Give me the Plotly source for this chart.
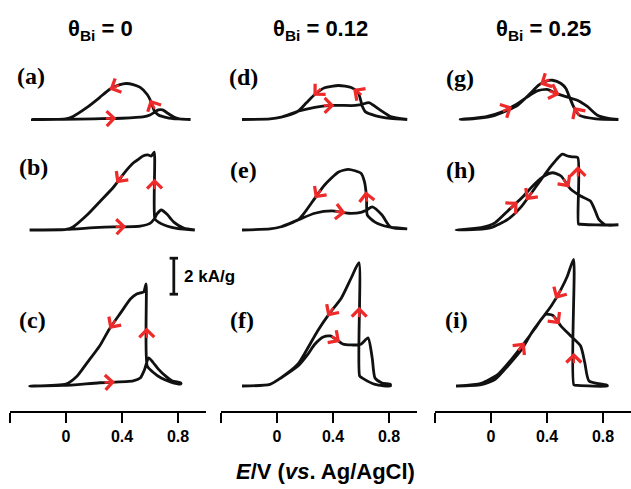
import math
import plotly.graph_objects as go

# ---------------------------------------------------------------------------
# Cyclic voltammograms: potential E (V vs. Ag/AgCl) and current density j (kA/g)
# for the forward (anodic) and reverse (cathodic) sweeps of each panel.
# ---------------------------------------------------------------------------
a_fwd_E = [-0.24, -0.02, 0.20, 0.40, 0.55, 0.60, 0.63, 0.66, 0.69, 0.73, 0.77, 0.81, 0.89]
a_fwd_j = [0.00, 0.01, 0.04, 0.07, 0.14, 0.25, 0.39, 0.53, 0.53, 0.33, 0.14, 0.04, 0.00]
a_rev_E = [0.89, 0.80, 0.72, 0.66, 0.63, 0.61, 0.58, 0.53, 0.48, 0.43, 0.38, 0.31, 0.24, 0.15, 0.05, 0.00, -0.24]
a_rev_j = [0.00, 0.03, 0.11, 0.25, 0.50, 0.94, 1.39, 1.78, 1.94, 2.00, 1.92, 1.67, 1.22, 0.67, 0.17, 0.03, 0.00]

b_fwd_E = [-0.26, 0.00, 0.24, 0.53, 0.60, 0.63, 0.65, 0.68, 0.72, 0.77, 0.84, 0.92]
b_fwd_j = [0.00, 0.03, 0.15, 0.22, 0.37, 0.61, 0.89, 1.11, 0.89, 0.44, 0.11, 0.00]
b_rev_E = [0.92, 0.80, 0.72, 0.66, 0.635, 0.63, 0.61, 0.585, 0.55, 0.52, 0.48, 0.41, 0.34, 0.24, 0.15, 0.05, 0.00, -0.26]
b_rev_j = [0.00, 0.08, 0.22, 0.44, 0.61, 4.33, 4.11, 4.17, 4.11, 3.94, 3.72, 3.11, 2.39, 1.56, 0.83, 0.17, 0.03, 0.00]

c_fwd_E = [-0.26, -0.02, 0.24, 0.48, 0.53, 0.56, 0.59, 0.62, 0.66, 0.71, 0.76, 0.82]
c_fwd_j = [0.00, 0.03, 0.18, 0.28, 0.44, 0.89, 1.56, 1.33, 0.94, 0.56, 0.28, 0.17]
c_rev_E = [0.82, 0.75, 0.68, 0.62, 0.58, 0.572, 0.555, 0.53, 0.505, 0.46, 0.39, 0.31, 0.24, 0.15, 0.08, 0.00, -0.26]
c_rev_j = [0.11, 0.22, 0.44, 0.78, 1.11, 5.67, 5.22, 5.17, 5.11, 4.83, 4.06, 3.17, 2.22, 1.28, 0.56, 0.11, 0.00]

d_fwd_E = [-0.25, -0.05, 0.03, 0.15, 0.27, 0.39, 0.56, 0.60, 0.66, 0.73, 0.81, 0.93]
d_fwd_j = [0.00, 0.03, 0.13, 0.46, 0.68, 0.78, 0.78, 0.83, 0.93, 0.56, 0.17, 0.00]
d_rev_E = [0.93, 0.81, 0.70, 0.63, 0.61, 0.58, 0.53, 0.44, 0.34, 0.27, 0.21, 0.15, 0.03, -0.05, -0.25]
d_rev_j = [0.00, 0.06, 0.22, 0.44, 0.72, 1.50, 1.78, 1.89, 1.76, 1.39, 0.93, 0.46, 0.13, 0.03, 0.00]

e_fwd_E = [-0.25, -0.05, 0.03, 0.15, 0.27, 0.39, 0.51, 0.60, 0.64, 0.68, 0.75, 0.81, 0.93]
e_fwd_j = [0.00, 0.06, 0.18, 0.56, 0.93, 1.06, 0.93, 0.98, 1.11, 1.28, 0.83, 0.17, 0.06]
e_rev_E = [0.93, 0.80, 0.70, 0.645, 0.64, 0.625, 0.60, 0.51, 0.44, 0.34, 0.27, 0.20, 0.15, 0.03, -0.05, -0.25]
e_rev_j = [0.06, 0.17, 0.44, 0.83, 1.76, 2.67, 3.15, 3.37, 3.22, 2.50, 1.76, 1.00, 0.56, 0.18, 0.06, 0.00]

f_fwd_E = [-0.25, -0.05, 0.03, 0.15, 0.22, 0.27, 0.33, 0.38, 0.43, 0.47, 0.53, 0.60, 0.65, 0.68, 0.70, 0.75, 0.81]
f_fwd_j = [0.00, 0.09, 0.46, 1.11, 1.76, 2.32, 2.72, 2.78, 2.55, 2.33, 2.28, 2.32, 2.67, 1.56, 0.44, 0.17, 0.09]
f_rev_E = [0.81, 0.70, 0.61, 0.59, 0.585, 0.53, 0.46, 0.37, 0.29, 0.22, 0.15, 0.03, -0.05, -0.25]
f_rev_j = [0.00, 0.09, 0.44, 0.56, 6.85, 6.00, 4.89, 3.98, 3.06, 2.11, 1.22, 0.46, 0.09, 0.00]

g_fwd_E = [-0.22, -0.04, 0.08, 0.17, 0.26, 0.33, 0.40, 0.47, 0.54, 0.62, 0.69, 0.76, 0.84, 0.91]
g_fwd_j = [0.00, 0.15, 0.43, 0.79, 1.26, 1.59, 1.67, 1.44, 1.26, 1.06, 0.71, 0.24, 0.06, 0.00]
g_rev_E = [0.91, 0.75, 0.63, 0.59, 0.56, 0.535, 0.50, 0.44, 0.40, 0.34, 0.28, 0.19, 0.12, 0.00, -0.10, -0.22]
g_rev_j = [0.00, 0.03, 0.24, 0.71, 1.26, 1.72, 2.00, 2.18, 2.15, 1.91, 1.44, 0.79, 0.52, 0.17, 0.06, 0.00]

h_fwd_E = [-0.25, -0.07, 0.03, 0.12, 0.22, 0.31, 0.38, 0.44, 0.50, 0.57, 0.64, 0.71, 0.74, 0.77, 0.82, 0.91]
h_fwd_j = [0.00, 0.13, 0.41, 1.06, 1.79, 2.54, 3.00, 3.18, 3.00, 2.26, 1.89, 1.61, 1.15, 0.59, 0.28, 0.28]
h_rev_E = [0.91, 0.75, 0.64, 0.625, 0.62, 0.58, 0.546, 0.51, 0.48, 0.43, 0.36, 0.29, 0.22, 0.12, 0.00, -0.10, -0.25]
h_rev_j = [0.28, 0.28, 0.32, 0.33, 4.02, 4.06, 4.11, 4.21, 4.02, 3.56, 2.82, 2.07, 1.33, 0.59, 0.13, 0.03, 0.00]

i_fwd_E = [-0.24, -0.07, 0.05, 0.146, 0.24, 0.31, 0.36, 0.39, 0.44, 0.50, 0.57, 0.64, 0.67, 0.70, 0.83]
i_fwd_j = [0.00, 0.15, 0.65, 1.48, 2.41, 3.15, 3.71, 3.98, 3.93, 3.33, 2.78, 2.22, 1.29, 0.28, 0.04]
i_rev_E = [0.83, 0.62, 0.592, 0.59, 0.546, 0.50, 0.43, 0.36, 0.29, 0.22, 0.12, 0.03, -0.07, -0.25]
i_rev_j = [0.00, 0.03, 0.06, 7.04, 6.11, 5.37, 4.44, 3.71, 2.96, 2.04, 1.11, 0.37, 0.08, 0.00]

panel_labels = ["(a)", "(b)", "(c)", "(d)", "(e)", "(f)", "(g)", "(h)", "(i)"]
bi_coverage = ["0", "0.12", "0.25"]
tick_values = [0.0, 0.4, 0.8]
tick_labels = ["0", "0.4", "0.8"]
axis_start_tick = [-0.4]
scale_bar_kA = 2.0

curves = {
    "a": (a_fwd_E, a_fwd_j, a_rev_E, a_rev_j),
    "b": (b_fwd_E, b_fwd_j, b_rev_E, b_rev_j),
    "c": (c_fwd_E, c_fwd_j, c_rev_E, c_rev_j),
    "d": (d_fwd_E, d_fwd_j, d_rev_E, d_rev_j),
    "e": (e_fwd_E, e_fwd_j, e_rev_E, e_rev_j),
    "f": (f_fwd_E, f_fwd_j, f_rev_E, f_rev_j),
    "g": (g_fwd_E, g_fwd_j, g_rev_E, g_rev_j),
    "h": (h_fwd_E, h_fwd_j, h_rev_E, h_rev_j),
    "i": (i_fwd_E, i_fwd_j, i_rev_E, i_rev_j),
}

# Sweep-direction markers: (sweep, coordinate used to place it, value)
sweep_arrows = {
    "a": [("fwd", "E", 0.36), ("rev", "j", 1.10), ("rev", "E", 0.31)],
    "b": [("fwd", "E", 0.43), ("rev", "j", 2.85), ("rev", "E", 0.36)],
    "c": [("fwd", "E", 0.35), ("rev", "j", 3.25), ("rev", "E", 0.31)],
    "d": [("fwd", "E", 0.41), ("rev", "j", 1.70), ("rev", "E", 0.26)],
    "e": [("fwd", "E", 0.49), ("rev", "j", 2.15), ("rev", "E", 0.27)],
    "f": [("fwd", "E", 0.45), ("rev", "j", 4.40), ("rev", "E", 0.36)],
    "g": [("fwd", "E", 0.15), ("fwd", "E", 0.49), ("rev", "j", 0.70), ("rev", "E", 0.35)],
    "h": [("fwd", "E", 0.19), ("fwd", "E", 0.56), ("rev", "j", 3.55), ("rev", "E", 0.25)],
    "i": [("fwd", "E", 0.24), ("fwd", "E", 0.49), ("rev", "j", 1.85), ("rev", "E", 0.46)],
}

# ---------------------------------------------------------------------------
# Geometry (pixels): one potential axis per column, one current axis per row,
# so every panel shares the same E and j scales.
# ---------------------------------------------------------------------------
W, H = 631, 489
PX_PER_V = 140.0
PX_PER_KA = 18.0
E_MIN = -0.4
col_left_px = [10, 221, 435]
# (top, zero-current line, bottom) of each row
row_px = [(55, 119.5, 132), (135, 230, 245), (248, 386, 411)]

LINE = "#111111"
RED = "#ee2b2b"
SANS = "Liberation Sans, Arial, sans-serif"
SERIF = "Liberation Serif, Times New Roman, serif"


def px_x(px):
    return px / W


def px_y(px):
    return 1 - px / H


def axis_name(prefix, idx):
    return prefix if idx == 0 else f"{prefix}{idx + 1}"


def locate(E, j, key, value):
    """Point on a sweep where E (or j) first reaches value, with its
    direction of travel expressed in screen pixels."""
    for k in range(len(E) - 1):
        a, b = (E[k], E[k + 1]) if key == "E" else (j[k], j[k + 1])
        if a != b and min(a, b) <= value <= max(a, b):
            t = (value - a) / (b - a)
            x = E[k] + t * (E[k + 1] - E[k])
            y = j[k] + t * (j[k + 1] - j[k])
            dx = (E[k + 1] - E[k]) * PX_PER_V
            dy = (j[k + 1] - j[k]) * PX_PER_KA
            n = math.hypot(dx, dy)
            return x, y, dx / n, dy / n
    raise ValueError(value)


fig = go.Figure()
layout = dict(
    width=W, height=H,
    margin=dict(l=0, r=0, t=0, b=0),
    paper_bgcolor="white", plot_bgcolor="rgba(0,0,0,0)",
    showlegend=False,
    annotations=[],
    font=dict(family=SANS, color="black"),
)

# potential axes (bottom of each column)
for col in range(3):
    left = col_left_px[col]
    right = min(left + 1.4 * PX_PER_V, W)
    layout[f"xaxis{col + 1}"] = dict(
        domain=[px_x(left), px_x(right)],
        range=[E_MIN, E_MIN + (right - left) / PX_PER_V],
        anchor="y3", showgrid=False, zeroline=False, fixedrange=True,
        showline=True, linecolor="black", linewidth=2,
        ticks="outside", ticklen=10, tickwidth=2, tickcolor="black",
        tickmode="array", tickvals=tick_values, ticktext=tick_labels,
        minor=dict(tickmode="array", tickvals=axis_start_tick, ticks="outside",
                   ticklen=10, tickwidth=2, tickcolor="black", showgrid=False),
        tickfont=dict(family=SANS, size=16, color="black", weight="bold"),
    )

# current axes (hidden, one per row)
for row in range(3):
    top, zero, bottom = row_px[row]
    layout[f"yaxis{row + 1}"] = dict(
        domain=[px_y(bottom), px_y(top)],
        range=[-(bottom - zero) / PX_PER_KA, (zero - top) / PX_PER_KA],
        anchor="x", visible=False, fixedrange=True,
    )

for n, key in enumerate("abcdefghi"):
    col, row = divmod(n, 3)
    xname = axis_name("x", col)
    yname = axis_name("y", row)

    fE, fj, rE, rj = curves[key]
    fig.add_trace(go.Scatter(
        x=fE + rE, y=fj + rj, xaxis=xname, yaxis=yname,
        mode="lines", line=dict(color=LINE, width=2.8, shape="spline", smoothing=0.6),
        hoverinfo="skip",
    ))

    for sweep, coord, value in sweep_arrows[key]:
        E, j = (fE, fj) if sweep == "fwd" else (rE, rj)
        x, y, ux, uy = locate(E, j, coord, value)
        L = 12
        layout["annotations"].append(dict(
            x=x, y=y, xref=xname, yref=yname,
            ax=-ux * L, ay=uy * L, axref="pixel", ayref="pixel",
            showarrow=True, arrowhead=4, arrowsize=1.2, arrowwidth=2.4,
            arrowcolor=RED, text="",
        ))

# panel letters
label_px = [(31, 76), (33, 167), (32, 320), (243, 77), (243, 170), (242, 320),
            (460, 78), (460, 170), (457, 320)]
for text, (lx, ly) in zip(panel_labels, label_px):
    layout["annotations"].append(dict(
        x=px_x(lx), y=px_y(ly), xref="paper", yref="paper",
        text=f"<b>{text}</b>", showarrow=False,
        font=dict(family=SERIF, size=24, color="black"),
        xanchor="center", yanchor="middle",
    ))

# column headings
for theta, cx in zip(bi_coverage, [100, 320, 543]):
    layout["annotations"].append(dict(
        x=px_x(cx), y=px_y(30), xref="paper", yref="paper",
        text=f"<b>θ<sub>Bi</sub> = {theta}</b>", showarrow=False,
        font=dict(family=SANS, size=22, color="black"),
        xanchor="center", yanchor="middle",
    ))

# common potential axis title
layout["annotations"].append(dict(
    x=px_x(325), y=px_y(471), xref="paper", yref="paper",
    text="<b><i>E</i>/V (<i>vs</i>. Ag/AgCl)</b>", showarrow=False,
    font=dict(family=SANS, size=22, color="black"),
    xanchor="center", yanchor="middle",
))

# 2 kA/g scale bar, drawn on the scale of the first column, bottom row
bar_E = 0.77
bar_lo = 5.1
bar_hi = bar_lo + scale_bar_kA
cap = 0.03
fig.add_trace(go.Scatter(
    x=[bar_E - cap, bar_E + cap, None, bar_E, bar_E, None, bar_E - cap, bar_E + cap],
    y=[bar_hi, bar_hi, None, bar_hi, bar_lo, None, bar_lo, bar_lo],
    xaxis="x", yaxis="y3", mode="lines",
    line=dict(color=LINE, width=2.8), hoverinfo="skip",
))
layout["annotations"].append(dict(
    x=bar_E + 0.055, y=(bar_lo + bar_hi) / 2, xref="x", yref="y3",
    text="<b>2 kA/g</b>", showarrow=False,
    font=dict(family=SANS, size=17, color="black"),
    xanchor="left", yanchor="middle",
))

fig.update_layout(**layout)
fig.write_html("out.html")
